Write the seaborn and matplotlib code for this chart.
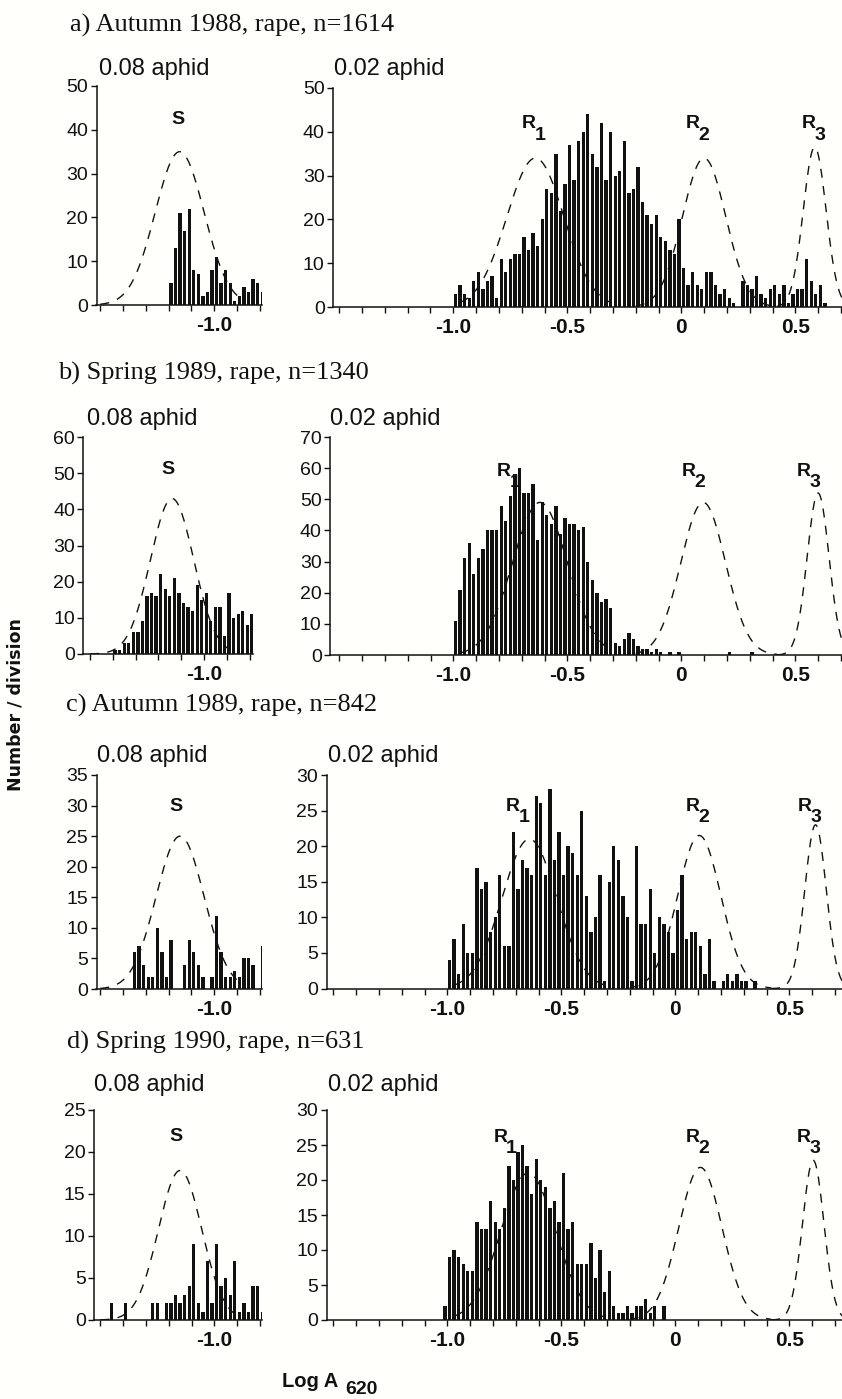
import numpy as np
import pandas as pd
import matplotlib
matplotlib.use("Agg")
import matplotlib.pyplot as plt
import seaborn as sns
from matplotlib import font_manager

# ---------------- data ----------------
row_titles = ["a) Autumn 1988, rape, n=1614",
              "b) Spring 1989, rape, n=1340",
              "c) Autumn 1989, rape, n=842",
              "d) Spring 1990, rape, n=631"]
left_title = "0.08 aphid"
right_title = "0.02 aphid"
bin_width = 0.02

# 0.08 aphid histograms (left edge of first bin, counts per 0.02 division)
left_starts = [-1.20, -1.40, -1.36, -1.46]
a_left = [5, 13, 21, 17, 22, 8, 7, 2, 3, 8, 11, 5, 8, 5, 1, 2, 4, 3, 6, 5, 3]
b_left = [1, 1, 3, 3, 6, 6, 9, 16, 17, 16, 22, 18, 16, 21, 17, 14, 13, 12, 19, 15,
          17, 9, 13, 13, 5, 17, 10, 11, 12, 8, 11]
c_left = [6, 7, 4, 2, 2, 10, 6, 2, 8, 0, 0, 4, 8, 6, 4, 2, 0, 2, 12, 6,
          2, 2, 3, 2, 5, 5, 4, 0, 7]
d_left = [2, 0, 0, 2, 0, 0, 0, 0, 0, 2, 2, 0, 2, 2, 3, 2, 3, 4, 9, 2,
          1, 7, 2, 9, 4, 5, 3, 7, 1, 2, 1, 4, 4, 1]

# 0.02 aphid histograms
right_starts = [-1.00, -1.00, -1.00, -1.02]
a_right = [3, 5, 3, 2, 6, 8, 4, 6, 7, 2,
           11, 8, 11, 12, 12, 16, 13, 17, 14, 20,
           27, 26, 35, 22, 28, 37, 29, 38, 40, 44,
           35, 32, 42, 29, 40, 30, 31, 38, 26, 27,
           32, 24, 21, 19, 21, 16, 15, 13, 12, 20,
           9, 5, 8, 5, 4, 8, 8, 5, 3, 4,
           2, 1, 0, 6, 5, 4, 7, 3, 2, 4,
           5, 3, 5, 1, 3, 4, 4, 11, 6, 3,
           5, 1]
b_right = [11, 21, 31, 36, 26, 31, 34, 40, 40, 40,
           48, 43, 51, 58, 60, 52, 52, 55, 37, 49,
           45, 42, 48, 39, 44, 42, 42, 40, 41, 30,
           24, 20, 17, 18, 15, 4, 3, 5, 7, 5,
           3, 2, 2, 1, 2, 1, 0, 1, 0, 1,
           0, 0, 0, 0, 0, 0, 0, 0, 0, 0,
           1, 0, 0, 0, 0, 1]
c_right = [4, 7, 2, 9, 5, 5, 17, 14, 15, 8,
           10, 16, 6, 6, 22, 14, 18, 17, 16, 27,
           26, 16, 28, 18, 22, 16, 20, 19, 16, 25,
           13, 8, 10, 16, 1, 15, 20, 18, 13, 10,
           1, 20, 9, 9, 14, 5, 10, 9, 8, 5,
           11, 16, 7, 8, 8, 6, 2, 7, 1, 0,
           1, 2, 1, 2, 1, 1, 0, 1]
d_right = [2, 9, 10, 9, 8, 7, 7, 14, 13, 13,
           17, 14, 13, 16, 22, 20, 24, 25, 22, 18,
           23, 20, 19, 16, 17, 14, 21, 13, 14, 8,
           8, 8, 11, 6, 10, 4, 7, 2, 1, 1,
           2, 1, 2, 2, 3, 1, 2, 0, 2]

left_counts = [a_left, b_left, c_left, d_left]
right_counts = [a_right, b_right, c_right, d_right]

# fitted normal curves (centre, sd, peak height)
s_centre = [-1.152, -1.14, -1.15, -1.15]
s_sd = [0.107, 0.095, 0.105, 0.095]
s_peak = [35.0, 43.0, 25.0, 17.8]
s_range = (-1.50, -0.87)

r_labels = ["1", "2", "3"]
r_centre = [[-0.64, 0.10, 0.585], [-0.62, 0.096, 0.60],
            [-0.64, 0.105, 0.615], [-0.645, 0.11, 0.605]]
r_sd = [[0.125, 0.095, 0.05], [0.12, 0.098, 0.048],
        [0.12, 0.095, 0.047], [0.12, 0.095, 0.047]]
r_peak = [[34.0, 34.0, 36.5], [49.0, 49.0, 52.0],
          [21.0, 21.5, 23.0], [21.0, 21.8, 22.8]]
r_range = [(-0.97, -0.31), (-0.20, 0.42), (0.42, 0.76)]

left_ymax = [50, 60, 35, 25]
left_ystep = [10, 10, 5, 5]
right_ymax = [50, 70, 30, 30]
right_ystep = [10, 10, 5, 5]

left_xlabels = {-1.0: "-1.0"}
right_xlabels = {-1.0: "-1.0", -0.5: "-0.5", 0.0: "0", 0.5: "0.5"}

# ---------------- style ----------------
sns.set_style("ticks")
names = {f.name for f in font_manager.fontManager.ttflist}
SANS = "Liberation Sans" if "Liberation Sans" in names else "DejaVu Sans"
SERIF = "Liberation Serif" if "Liberation Serif" in names else "DejaVu Serif"
plt.rcParams["font.family"] = [SANS, "DejaVu Sans"]

W, H = 842, 1399
BG = "#fffffc"
INK = "#111111"
fig = plt.figure(figsize=(W / 100, H / 100), dpi=100)
fig.patch.set_facecolor(BG)


def fx(x):
    return x / W


def fy(y):
    return 1 - y / H


SCALE = 228.0  # pixels per log unit

# (spine x, x of -1.0 tick, right end, baseline y, top y)
layout_left = [(96.5, 214.3, 262, 305, 86), (83.3, 204, 253, 654, 437),
               (96.5, 214.3, 262, 989, 775), (94, 214.3, 262, 1320, 1110)]
layout_right = [(333, 453.3, 842, 307, 88), (330, 453.3, 842, 655, 437),
                (326.5, 447.3, 842, 988.5, 775), (326.5, 447.3, 842, 1320, 1110)]


def make_ax(spine, tick, right, y0, ytop):
    ax = fig.add_axes([fx(spine), fy(y0), (right - spine) / W, (y0 - ytop) / H])
    xlim = (-1 - (tick - spine) / SCALE, -1 + (right - tick) / SCALE)
    return ax, xlim


def draw_hist(ax, start, counts):
    counts = np.asarray(counts, float)
    n = len(counts)
    lo = start
    hi = start + bin_width * n
    centres = lo + bin_width * (np.arange(n) + 0.5)
    df = pd.DataFrame({"x": centres, "n": counts})
    sns.histplot(data=df, x="x", weights="n", bins=n, binrange=(lo, hi), shrink=0.72,
                 color=INK, alpha=1, linewidth=0, ax=ax)


def draw_curve(ax, mu, sd, pk, lo, hi):
    xs = np.linspace(lo, hi, 300)
    ys = pk * np.exp(-0.5 * ((xs - mu) / sd) ** 2)
    sns.lineplot(x=xs, y=ys, ax=ax, color=INK, linewidth=1.0,
                 linestyle=(0, (6.5, 6)), zorder=3)


def style_axes(ax, xlim, ymax, ystep, xlabels):
    ax.set_xlim(*xlim)
    ax.set_ylim(0, ymax)
    ticks = np.round(np.arange(-1.5, xlim[1] + 1e-9, 0.1), 1)
    ticks = ticks[ticks >= xlim[0] - 1e-9]
    ax.set_xticks(ticks)
    ax.set_xticklabels([xlabels.get(float(t), "") for t in ticks],
                       fontweight="bold", fontsize=15, family=[SANS, "DejaVu Sans"])
    yt = np.arange(0, ymax + 1, ystep)
    ax.set_yticks(yt)
    ax.set_yticklabels([str(v) for v in yt], fontsize=14, family=[SANS, "DejaVu Sans"])
    for s in ["top", "right"]:
        ax.spines[s].set_visible(False)
    for s in ["left", "bottom"]:
        ax.spines[s].set_linewidth(1.1)
        ax.spines[s].set_color(INK)
    ax.tick_params(axis="x", direction="out", length=4, width=1, pad=4, colors=INK)
    ax.tick_params(axis="y", direction="out", length=4, width=1, pad=2, colors=INK)
    ax.set_xlabel("")
    ax.set_ylabel("")
    ax.set_facecolor("none")


# text positions (px)
title_pos = [(70, 32), (58, 380), (65.5, 712), (67, 1048.5)]
sub_title_y = [75, 425, 761.7, 1090.5]
left_title_x = [99, 87, 97, 94]
right_title_x = [334, 330, 327.6, 327.6]
s_pos = [(178, 119), (167.5, 469), (175.6, 806), (176, 1136.6)]
r_x = [[529, 693, 809], [504, 689, 804], [513, 693, 804.5], [500.5, 693, 804]]
r_y = [123.5, 471, 806, 1137]

for row in range(4):
    axl, xl_l = make_ax(*layout_left[row])
    draw_hist(axl, left_starts[row], left_counts[row])
    draw_curve(axl, s_centre[row], s_sd[row], s_peak[row], *s_range)
    style_axes(axl, xl_l, left_ymax[row], left_ystep[row], left_xlabels)

    axr, xl_r = make_ax(*layout_right[row])
    draw_hist(axr, right_starts[row], right_counts[row])
    for k in range(3):
        draw_curve(axr, r_centre[row][k], r_sd[row][k], r_peak[row][k], *r_range[k])
    style_axes(axr, xl_r, right_ymax[row], right_ystep[row], right_xlabels)

    tx, ty = title_pos[row]
    fig.text(fx(tx), fy(ty), row_titles[row], ha="left", va="baseline",
             family=[SERIF, "DejaVu Serif"], fontsize=19, color=INK)
    fig.text(fx(left_title_x[row]), fy(sub_title_y[row]), left_title, ha="left",
             va="baseline", fontsize=17, color=INK)
    fig.text(fx(right_title_x[row]), fy(sub_title_y[row]), right_title, ha="left",
             va="baseline", fontsize=17, color=INK)

    sx, sy = s_pos[row]
    fig.text(fx(sx), fy(sy), "S", ha="center", va="center", fontsize=14,
             fontweight="bold", color=INK)
    for k in range(3):
        fig.text(fx(r_x[row][k]), fy(r_y[row]), "R", ha="center", va="center",
                 fontsize=14, fontweight="bold", color=INK)
        fig.text(fx(r_x[row][k] + 11), fy(r_y[row] + 11.5), r_labels[k], ha="center",
                 va="center", fontsize=14, fontweight="bold", color=INK)

fig.text(fx(16), fy(705), "Number / division", rotation=90, ha="center", va="center",
         family=["DejaVu Sans"], fontweight="bold", fontsize=12.5, color=INK)
fig.text(fx(282), fy(1387), "Log A", ha="left", va="baseline", fontsize=14.5,
         fontweight="bold", color=INK)
fig.text(fx(345), fy(1394), "620", ha="left", va="baseline", fontsize=14,
         fontweight="bold", color=INK)

fig.savefig("out.png", dpi=100, facecolor=BG)
